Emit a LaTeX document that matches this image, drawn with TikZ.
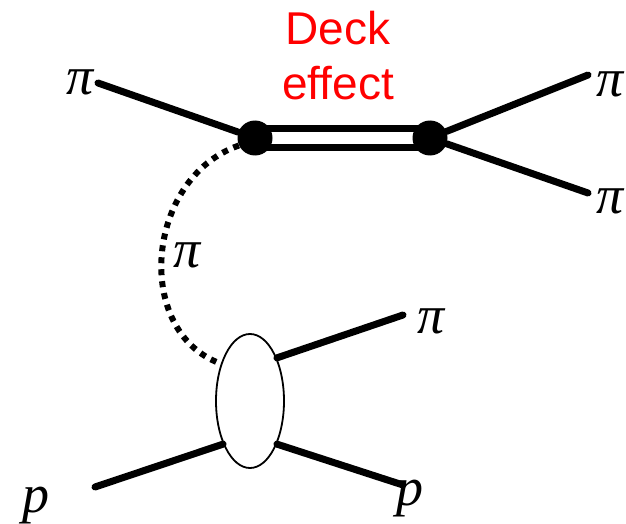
\documentclass[tikz,border=0pt]{standalone}
\usepackage{fontspec}
\newfontfamily\deckfont{Liberation Sans}
\newfontfamily\lblfont{Liberation Serif}
\usetikzlibrary{positioning, shapes.geometric}

\begin{document}
\begin{tikzpicture}[x=1pt,y=-1pt,
  leg/.style={line width=7pt,line cap=round},
  vtx/.style={circle,fill=black,inner sep=0pt,minimum size=35pt},
  lbl/.style={font=\lblfont\itshape\fontsize{54}{60}\selectfont,anchor=base,inner sep=0pt}]
  \useasboundingbox (0,0) rectangle (626,524);
  % upper vertex pair with the double line
  \coordinate (a) at (255,138);
  \coordinate (b) at (430,138);
  \draw[line width=7pt,double=white,double distance=11pt](a)--(b);
  \node[vtx] (A) at (a){};
  \node[vtx] (B) at (b){};
  \node[font=\deckfont\fontsize{46}{55}\selectfont,red,align=center,inner sep=0pt]
    (deck) at (338,56){Deck\\effect};
  \node[lbl] (piin) at (80,95){π};
  \node[lbl] (piup) at (610,97){π};
  \node[lbl] (pidn) at (610,213){π};
  \coordinate (a1) at (98,83);
  \coordinate (b1) at (588,75);
  \coordinate (b2) at (588,193);
  \draw[leg](a1)--(A);
  \draw[leg](B)--(b1);
  \draw[leg](B)--(b2);
  % lower blob
  \node[ellipse,draw,line width=1.8pt,minimum width=68pt,minimum height=134pt,
        inner sep=0pt] (E) at (250,401){};
  \node[lbl] (pix) at (187,267){π};
  \node[lbl] (piout) at (431,333){π};
  \node[lbl] (pout) at (410,505){p};
  \node[lbl] (pin) at (36,512){p};
  \coordinate (e1) at (403,315);
  \coordinate (e2) at (403,485);
  \coordinate (e3) at (95,487);
  \draw[leg](E.58)--(e1);
  \draw[leg](E.302)--(e2);
  \draw[leg](e3)--(E.238);
  % exchanged pion
  \draw[line width=6pt,dash pattern=on 6pt off 6pt]
    (A.205) .. controls (145,178) and (133,332) .. (E.128);
\end{tikzpicture}
\end{document}
